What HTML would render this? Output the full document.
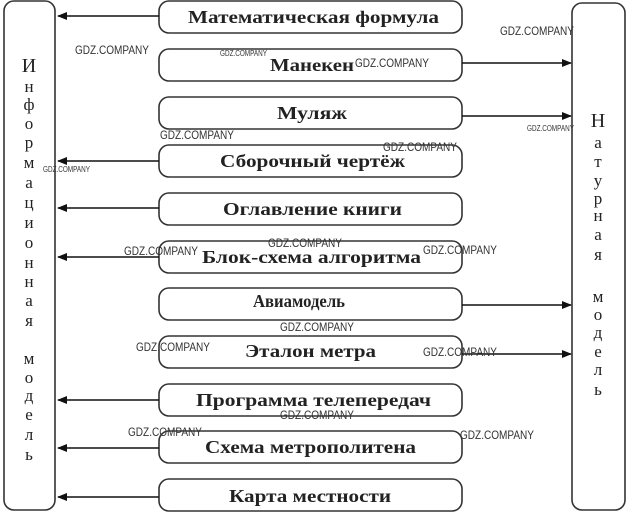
<!DOCTYPE html>
<html><head><meta charset="utf-8"><style>
html,body{margin:0;padding:0;background:#fff;}
svg{display:block;}
text{font-family:"Liberation Serif","DejaVu Serif",serif;fill:#222;}
.w text{font-family:"Liberation Sans",sans-serif;font-size:12px;fill:#333;}
.ws text{font-family:"Liberation Sans",sans-serif;font-size:8px;fill:#333;}
</style></head><body>
<svg width="628" height="517" viewBox="0 0 628 517">
<defs><marker id="a" markerWidth="10" markerHeight="8" refX="9" refY="4" orient="auto" markerUnits="userSpaceOnUse"><path d="M0,0 L10,4 L0,8 Z" fill="#111"/></marker></defs>
<g fill="none" stroke="#333" stroke-width="1.6">
<rect x="4" y="1" width="51" height="509" rx="10"/>
<rect x="572" y="3" width="53" height="507" rx="10"/>
<rect x="159" y="1" width="303" height="32" rx="10"/>
<rect x="159" y="49" width="303" height="32" rx="10"/>
<rect x="159" y="97" width="303" height="32" rx="10"/>
<rect x="159" y="145" width="303" height="32" rx="10"/>
<rect x="159" y="193" width="303" height="32" rx="10"/>
<rect x="159" y="241" width="303" height="32" rx="10"/>
<rect x="159" y="288" width="303" height="32" rx="10"/>
<rect x="159" y="336" width="303" height="32" rx="10"/>
<rect x="159" y="384" width="303" height="32" rx="10"/>
<rect x="159" y="431" width="303" height="32" rx="10"/>
<rect x="159" y="479" width="303" height="32" rx="10"/>
</g>
<g stroke="#111" stroke-width="1.5" marker-end="url(#a)">
<line x1="159" y1="16" x2="58" y2="16"/>
<line x1="159" y1="161" x2="58" y2="161"/>
<line x1="159" y1="208" x2="58" y2="208"/>
<line x1="159" y1="257" x2="58" y2="257"/>
<line x1="159" y1="400" x2="58" y2="400"/>
<line x1="159" y1="448" x2="58" y2="448"/>
<line x1="159" y1="497" x2="58" y2="497"/>
<line x1="462" y1="63" x2="571" y2="63"/>
<line x1="462" y1="116" x2="571" y2="116"/>
<line x1="462" y1="305" x2="571" y2="305"/>
<line x1="462" y1="354" x2="571" y2="354"/>
</g>
<g font-size="18" font-weight="bold">
<text x="188" y="23" textLength="251" lengthAdjust="spacingAndGlyphs">Математическая формула</text>
<text x="270" y="71" textLength="84" lengthAdjust="spacingAndGlyphs">Манекен</text>
<text x="277" y="119" textLength="70" lengthAdjust="spacingAndGlyphs">Муляж</text>
<text x="220" y="167" textLength="185" lengthAdjust="spacingAndGlyphs">Сборочный чертёж</text>
<text x="223" y="215" textLength="179" lengthAdjust="spacingAndGlyphs">Оглавление книги</text>
<text x="202" y="263" textLength="219" lengthAdjust="spacingAndGlyphs">Блок-схема алгоритма</text>
<text x="253" y="307" textLength="92" lengthAdjust="spacingAndGlyphs">Авиамодель</text>
<text x="245" y="357" textLength="131" lengthAdjust="spacingAndGlyphs">Эталон метра</text>
<text x="196" y="406" textLength="235" lengthAdjust="spacingAndGlyphs">Программа телепередач</text>
<text x="205" y="453" textLength="211" lengthAdjust="spacingAndGlyphs">Схема метрополитена</text>
<text x="229" y="502" textLength="162" lengthAdjust="spacingAndGlyphs">Карта местности</text>
</g>
<g font-size="17" text-anchor="middle">
<text x="29" y="72" font-size="20">И</text>
<text x="29" y="92">н</text><text x="29" y="110">ф</text><text x="29" y="129">о</text>
<text x="29" y="148">р</text><text x="29" y="168">м</text><text x="29" y="188">а</text>
<text x="29" y="208">ц</text><text x="29" y="228">и</text><text x="29" y="248">о</text>
<text x="29" y="268">н</text><text x="29" y="287">н</text><text x="29" y="306">а</text>
<text x="29" y="326">я</text>
<text x="29" y="364">м</text><text x="29" y="383">о</text><text x="29" y="401">д</text>
<text x="29" y="420">е</text><text x="29" y="440">л</text><text x="29" y="460">ь</text>
<text x="598" y="127" font-size="20">Н</text>
<text x="598" y="148">а</text><text x="598" y="167">т</text><text x="598" y="186">у</text>
<text x="598" y="204">р</text><text x="598" y="221">н</text><text x="598" y="240">а</text>
<text x="598" y="260">я</text>
<text x="598" y="302">м</text><text x="598" y="320">о</text><text x="598" y="338">д</text>
<text x="598" y="357">е</text><text x="598" y="375">л</text><text x="598" y="395">ь</text>
</g>
<g class="w">
<text x="75" y="54" textLength="74" lengthAdjust="spacingAndGlyphs">GDZ.COMPANY</text>
<text x="355" y="67" textLength="74" lengthAdjust="spacingAndGlyphs">GDZ.COMPANY</text>
<text x="500" y="35" textLength="74" lengthAdjust="spacingAndGlyphs">GDZ.COMPANY</text>
<text x="160" y="139" textLength="74" lengthAdjust="spacingAndGlyphs">GDZ.COMPANY</text>
<text x="383" y="151" textLength="74" lengthAdjust="spacingAndGlyphs">GDZ.COMPANY</text>
<text x="124" y="255" textLength="74" lengthAdjust="spacingAndGlyphs">GDZ.COMPANY</text>
<text x="268" y="247" textLength="74" lengthAdjust="spacingAndGlyphs">GDZ.COMPANY</text>
<text x="423" y="254" textLength="74" lengthAdjust="spacingAndGlyphs">GDZ.COMPANY</text>
<text x="280" y="331" textLength="74" lengthAdjust="spacingAndGlyphs">GDZ.COMPANY</text>
<text x="136" y="351" textLength="74" lengthAdjust="spacingAndGlyphs">GDZ.COMPANY</text>
<text x="423" y="356" textLength="74" lengthAdjust="spacingAndGlyphs">GDZ.COMPANY</text>
<text x="280" y="419" textLength="74" lengthAdjust="spacingAndGlyphs">GDZ.COMPANY</text>
<text x="128" y="436" textLength="74" lengthAdjust="spacingAndGlyphs">GDZ.COMPANY</text>
<text x="460" y="439" textLength="74" lengthAdjust="spacingAndGlyphs">GDZ.COMPANY</text>
</g>
<g class="ws">
<text x="220" y="56" textLength="47" lengthAdjust="spacingAndGlyphs">GDZ.COMPANY</text>
<text x="43" y="172" textLength="47" lengthAdjust="spacingAndGlyphs">GDZ.COMPANY</text>
<text x="527" y="131" textLength="47" lengthAdjust="spacingAndGlyphs">GDZ.COMPANY</text>
</g>
</svg>
</body></html>
